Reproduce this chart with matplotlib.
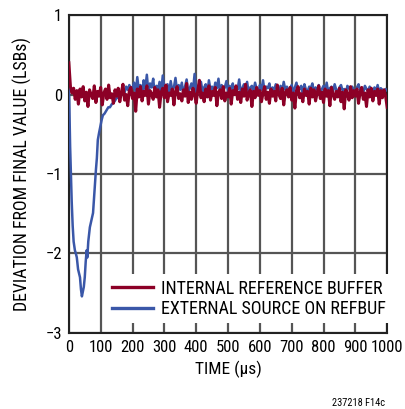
import numpy as np
import matplotlib
matplotlib.use('Agg')
import matplotlib.pyplot as plt

# condensed faces first if any are installed, else plain sans
plt.rcParams['font.family'] = ['Roboto Condensed', 'Open Sans Condensed', 'Liberation Sans Narrow',
                               'Arial Narrow', 'Liberation Sans', 'DejaVu Sans']

# internal reference buffer, sampled every 5 us from 0 to 1000 us (LSB)
red_step = 5
red = [0.40, 0.10, 0.02, 0.08, -0.06, 0.05, -0.12, 0.07, -0.03, 0.10,
       -0.08, 0.03, -0.15, 0.06, 0.00, -0.05, 0.11, -0.10, 0.04, -0.02,
       0.09, -0.13, 0.02, 0.07, -0.06, 0.12, -0.04, 0.01, -0.11, 0.06,
       -0.02, 0.08, -0.09, 0.03, 0.13, -0.07, 0.00, -0.14, 0.05, 0.09,
       -0.05, 0.02, -0.21, 0.07, -0.03, 0.10, -0.08, 0.04, -0.01, 0.11,
       -0.12, 0.05, 0.01, -0.06, 0.09, -0.03, 0.06, -0.16, 0.03, 0.08,
       -0.04, 0.12, -0.09, 0.02, -0.01, 0.07, -0.13, 0.04, 0.10, -0.05,
       0.01, -0.08, 0.06, -0.02, 0.14, -0.10, 0.03, -0.06, 0.08, 0.00,
       -0.11, 0.05, 0.18, -0.04, 0.02, -0.09, 0.07, -0.03, 0.11, -0.07,
       0.04, -0.01, 0.09, -0.14, 0.03, 0.06, -0.05, 0.10, -0.08, 0.02,
       -0.03, 0.08, -0.12, 0.05, 0.00, 0.11, -0.06, 0.03, -0.10, 0.07,
       -0.02, 0.13, -0.07, 0.01, 0.06, -0.15, 0.04, -0.04, 0.09, -0.01,
       0.05, -0.09, 0.02, 0.10, -0.06, 0.03, -0.11, 0.07, -0.02, 0.04,
       -0.08, 0.12, 0.00, -0.05, 0.08, -0.13, 0.03, 0.06, -0.03, 0.09,
       -0.07, 0.02, -0.17, 0.05, 0.10, -0.04, 0.01, -0.09, 0.07, -0.01,
       0.04, -0.12, 0.08, -0.03, 0.06, -0.08, 0.02, 0.11, -0.05, 0.03,
       -0.10, 0.07, -0.02, 0.05, -0.14, 0.09, 0.00, -0.06, 0.04, -0.03,
       0.08, -0.09, 0.03, -0.18, 0.06, 0.01, -0.07, 0.10, -0.04, 0.05,
       -0.02, 0.07, -0.11, 0.03, 0.09, -0.06, 0.02, -0.15, 0.06, -0.03,
       0.08, -0.08, 0.04, -0.01, 0.07, -0.12, 0.05, -0.04, 0.06, -0.02,
       -0.16]

# external source on REFBUF: settling transient, then noisy tail every 5 us
blue_t_transient = [0, 2, 4, 6, 9, 12, 15, 19, 22, 25, 29, 32, 35, 38, 41, 44, 47,
                    50, 53, 56, 58, 61, 66, 71, 76, 80, 85, 88, 91, 95, 99, 103,
                    107, 112, 118, 124, 129, 135, 141, 146, 151, 157, 163, 168,
                    174, 180, 185, 190, 195]
blue_transient = [0.20, -0.25, -0.65, -0.95, -1.35, -1.65, -1.85, -1.96, -2.00, -2.05,
                  -2.20, -2.25, -2.30, -2.45, -2.54, -2.48, -2.42, -2.30, -2.10, -1.96,
                  -2.05, -1.85, -1.67, -1.58, -1.49, -1.25, -0.95, -0.80, -0.57, -0.48,
                  -0.40, -0.32, -0.26, -0.24, -0.20, -0.16, -0.16, -0.12, -0.10, -0.07,
                  -0.03, -0.05, 0.00, 0.03, 0.01, 0.10, 0.06, 0.12, 0.08]
blue_tail_start = 200
blue_tail = [0.08, 0.15, 0.02, 0.22, 0.05, 0.12, -0.02, 0.18, 0.07, 0.25,
             0.03, 0.14, 0.09, 0.20, -0.01, 0.11, 0.06, 0.16, 0.02, 0.24,
             0.07, 0.10, 0.13, 0.01, 0.17, 0.05, 0.09, 0.21, 0.04, 0.12,
             0.06, 0.15, 0.00, 0.10, 0.19, 0.03, 0.08, 0.14, 0.05, 0.26,
             0.02, 0.11, 0.07, 0.16, 0.04, 0.09, 0.13, 0.01, 0.18, 0.06,
             0.10, 0.03, 0.15, 0.08, 0.20, 0.02, 0.12, 0.05, 0.09, 0.17,
             0.04, 0.11, 0.07, 0.14, 0.00, 0.10, 0.06, 0.19, 0.03, 0.08,
             0.13, 0.05, 0.16, 0.02, 0.09, 0.11, 0.04, 0.15, 0.07, 0.01,
             0.12, 0.06, 0.18, 0.03, 0.10, 0.08, 0.14, 0.02, 0.09, 0.05,
             0.13, 0.07, 0.01, 0.11, 0.04, 0.16, 0.06, 0.10, 0.03, 0.08,
             0.12, 0.02, 0.09, 0.15, 0.05, 0.07, 0.11, 0.00, 0.13, 0.06,
             0.04, 0.10, 0.08, 0.14, 0.03, 0.09, 0.06, 0.12, 0.01, 0.07,
             0.11, 0.05, 0.15, 0.02, 0.08, 0.10, 0.04, 0.13, 0.06, 0.03,
             0.09, 0.12, 0.05, 0.07, 0.01, 0.11, 0.08, 0.04, 0.10, 0.06,
             0.02, 0.09, 0.13, 0.05, 0.08, 0.03, 0.11, 0.07, 0.04, 0.10,
             0.06, 0.02, 0.09, 0.05, 0.12, 0.03, 0.08, 0.06, 0.04, 0.07,
             0.05]

x_ticks = [0, 100, 200, 300, 400, 500, 600, 700, 800, 900, 1000]
y_ticks = [-3, -2, -1, 0, 1]
y_tick_labels = ['\u22123', '\u22122', '\u22121', '0', '1']

red_t = np.arange(len(red)) * red_step
blue_t = np.concatenate([blue_t_transient, blue_tail_start + np.arange(len(blue_tail)) * red_step])
blue = np.concatenate([blue_transient, blue_tail])

fig = plt.figure(figsize=(4.05, 4.09), dpi=100)
ax = fig.add_axes([0.170, 0.186, 0.786, 0.777])

ax.plot(blue_t, blue, color='#3a57a8', lw=1.8, label='EXTERNAL SOURCE ON REFBUF', zorder=3)
ax.plot(red_t, red, color='#8c0026', lw=2.2, label='INTERNAL REFERENCE BUFFER', zorder=4)

ax.set_xlim(0, 1000)
ax.set_ylim(-3, 1)
ax.set_xticks(x_ticks)
ax.set_yticks(y_ticks)
ax.set_yticklabels(y_tick_labels)
ax.tick_params(length=0, labelsize=12, pad=5)
ax.grid(True, color='#555555', lw=1.6)
ax.set_axisbelow(True)
for s in ax.spines.values():
    s.set_color('#222222')
    s.set_linewidth(1.5)

handles, labels = ax.get_legend_handles_labels()
leg = ax.legend(handles[::-1], labels[::-1], loc='lower left', bbox_to_anchor=(0.118, 0.03),
                fontsize=13, frameon=True, framealpha=1, edgecolor='none', facecolor='white',
                handlelength=2.3, handletextpad=0.45, labelspacing=0.12, borderpad=0.3,
                borderaxespad=0, fancybox=False)
leg.set_zorder(5)
for line in leg.get_lines():
    line.set_linewidth(2.4)

ax.set_xlabel('TIME (\u00b5s)', fontsize=12.5, labelpad=4)
ax.set_ylabel('DEVIATION FROM FINAL VALUE (LSBs)', fontsize=12.8, labelpad=10)
fig.text(0.952, 0.003, '237218 F14c', ha='right', va='bottom', fontsize=7.5)

plt.savefig('out.png', dpi=100)
